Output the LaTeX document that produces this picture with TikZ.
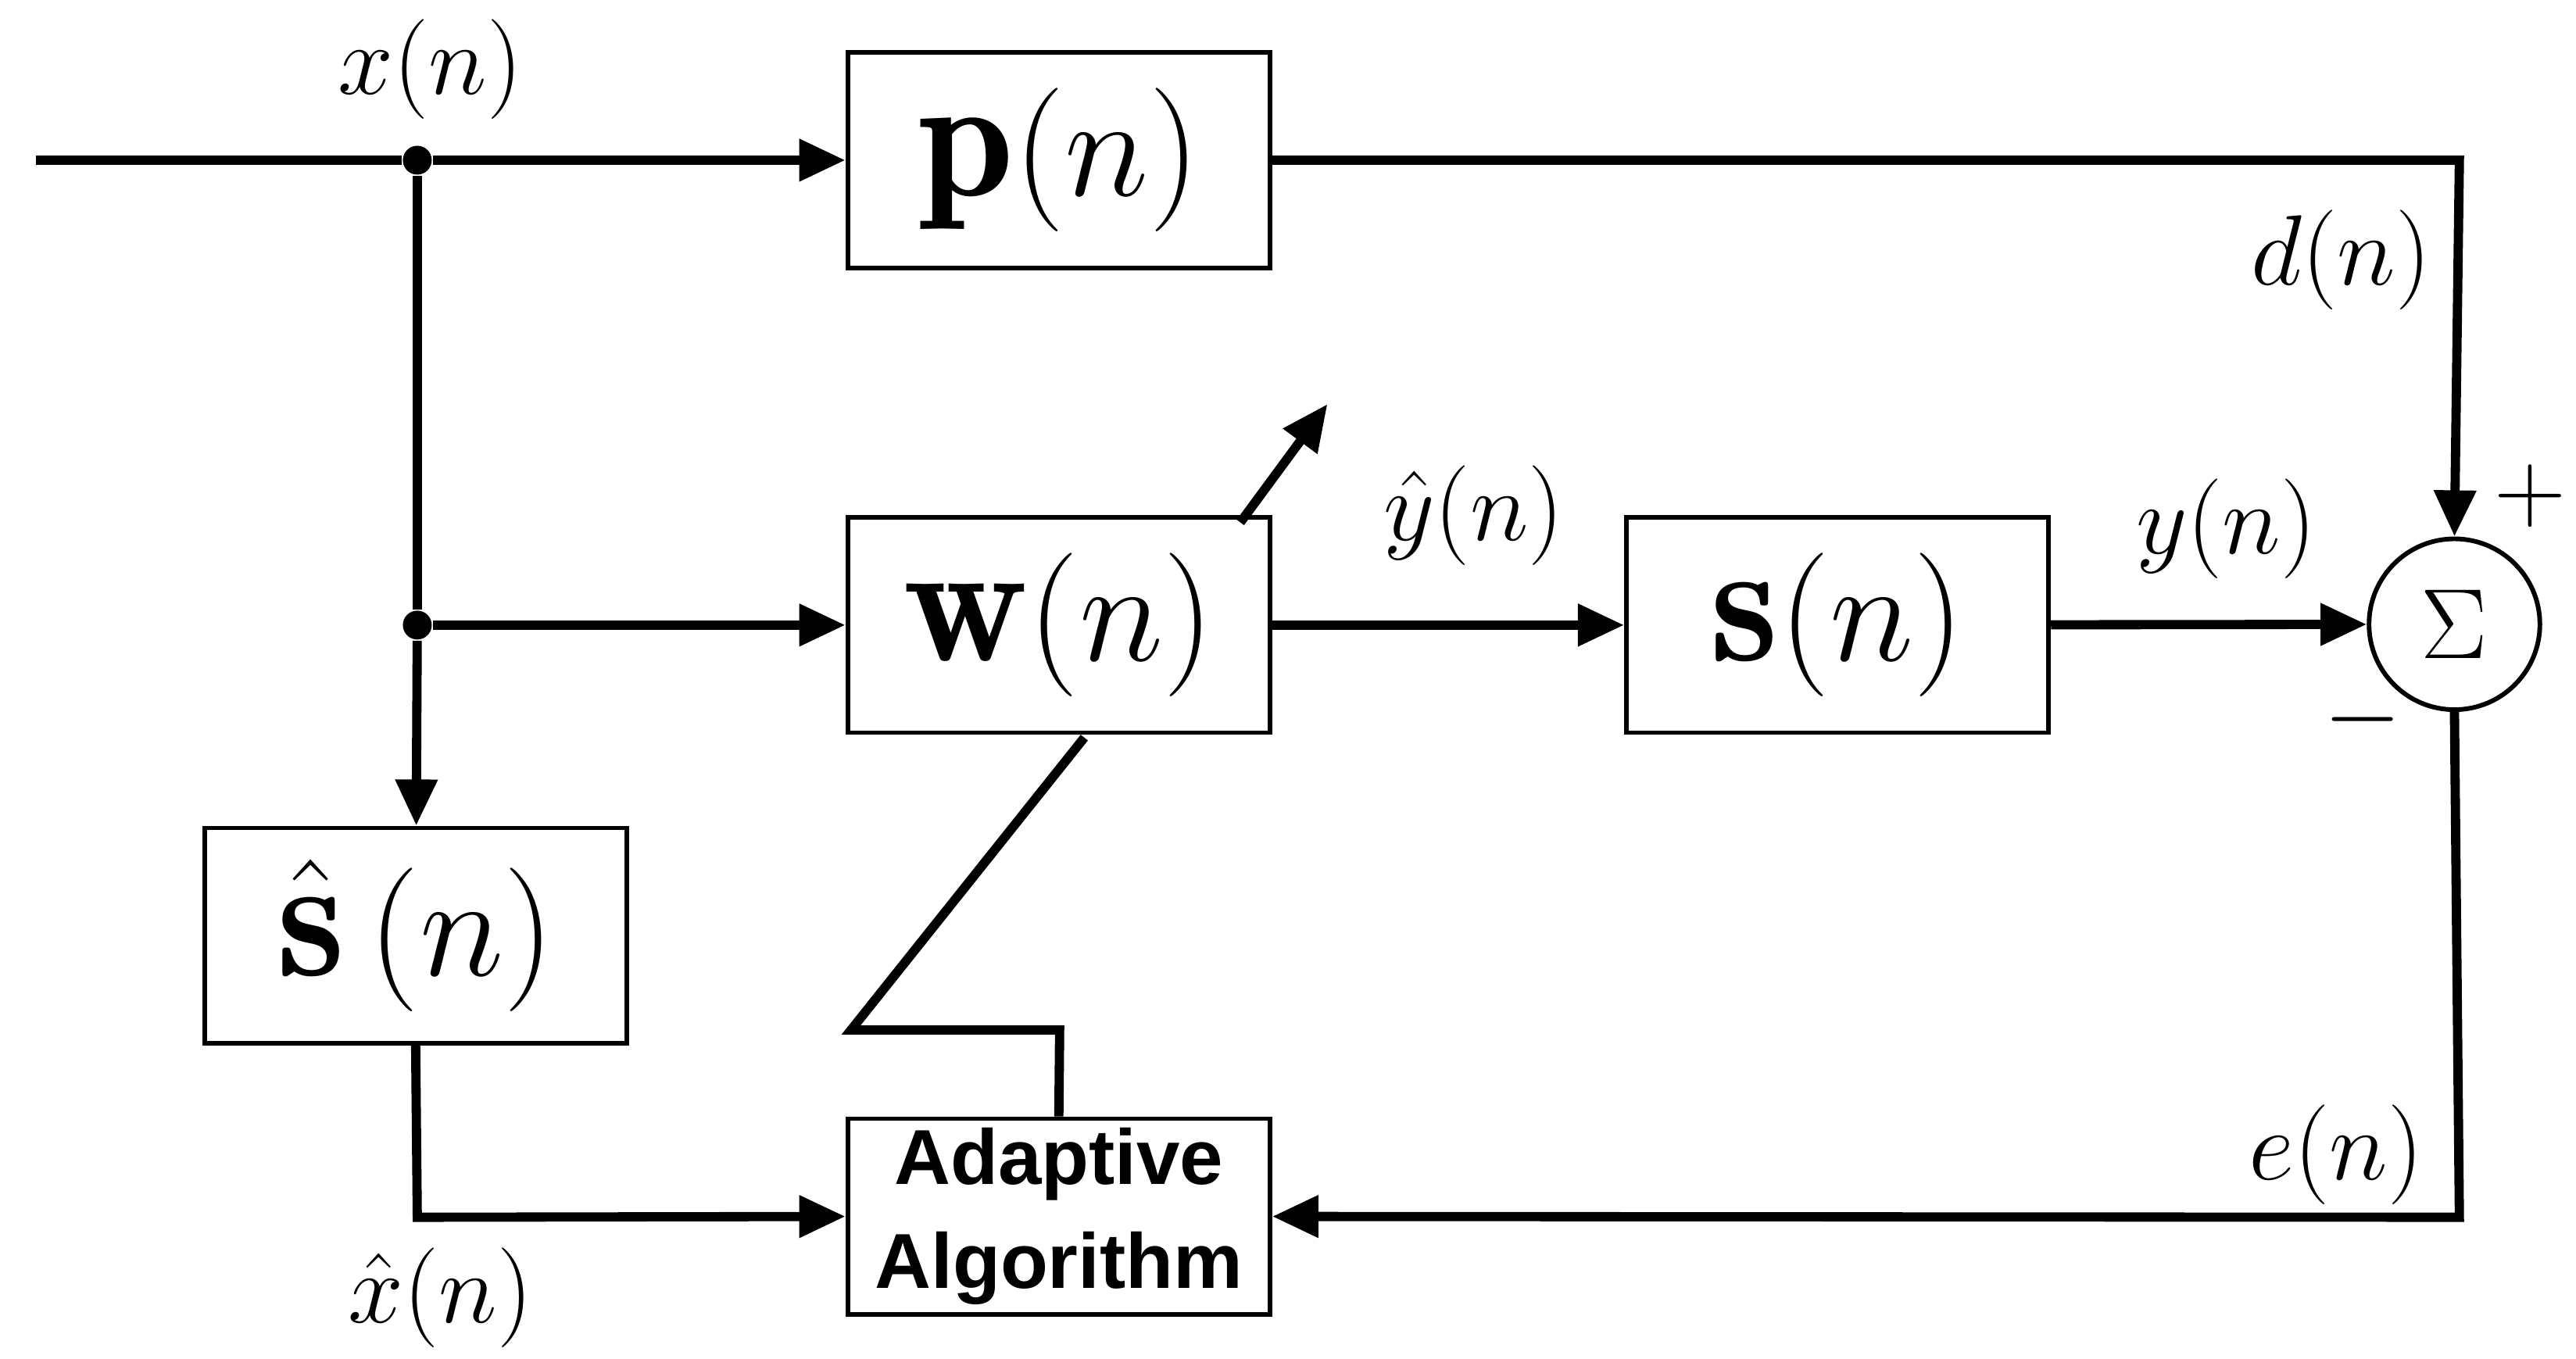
\documentclass[tikz,border=0pt]{standalone}
\usepackage{amsmath}
\usepackage{amssymb}
\usepackage{fontspec}
\newfontfamily\labfont{Liberation Sans}
\usetikzlibrary{arrows.meta}
\tikzset{
  blk/.style={draw, line width=0.8pt, minimum width=2.57cm, minimum height=1.31cm, inner sep=0pt, font=\fontsize{30}{30}\selectfont},
  sig/.style={line width=1.6pt, -{Triangle[length=8pt,width=7pt]}},
  wire/.style={line width=1.6pt},
  lab/.style={font=\fontsize{16}{16}\selectfont},
  dot/.style={circle, fill, inner sep=0pt, minimum size=5pt}
}
\begin{document}
\begin{tikzpicture}
\useasboundingbox (0,0) rectangle (15.68,8.27);
% blocks
\node[blk] (p) at (6.445,7.295) {$\mathbf{p}(n)$};
\node[blk] (w) at (6.445,4.465) {$\mathbf{w}(n)$};
\node[blk] (s) at (11.185,4.465) {$\mathbf{s}(n)$};
\node[blk] (sh) at (2.53,2.575) {$\hat{\mathbf{s}}\,(n)$};
\node[blk, minimum height=1.19cm, align=center, font=\labfont\bfseries\fontsize{13.5}{18}\selectfont] (ad) at (6.445,0.865) {Adaptive\\Algorithm};
\node[draw, circle, line width=0.8pt, minimum size=1.04cm, inner sep=0pt, font=\fontsize{18}{18}\selectfont] (sum) at (14.94,4.47) {$\Sigma$};
% junctions
\coordinate (in) at (0.22,7.295);
\node[dot] (j1) at (2.54,7.295) {};
\node[dot] (j2) at (2.54,4.465) {};
\coordinate (c1) at (14.97,7.295);
\coordinate (c2) at (14.97,0.86);
\coordinate (c3) at (2.54,0.86);
\coordinate (a1) at (6.45,2.0);
\coordinate (a2) at (5.18,2.0);
\coordinate (a3) at (6.6,3.78);
\coordinate (t1) at (7.55,5.09);
\coordinate (t2) at (8.08,5.81);
% connectors
\draw[wire] (in) -- (j1);
\draw[sig] (j1) -- (p);
\draw[wire] (j1) -- (j2);
\draw[sig] (j2) -- (w);
\draw[sig] (j2) -- (sh);
\draw[sig] (w) -- (s);
\draw[sig] (s) -- (sum);
\draw[sig] (p.east) -- (c1) -- (sum.north);
\draw[sig] (sum.south) -- (c2) -- (ad.east);
\draw[sig] (sh.south) -- (c3) -- (ad.west);
\draw[wire] (ad.north) -- (a1) -- (a2) -- (a3);
\draw[sig] (t1) -- (t2);
% labels
\node[lab] (lx) at (2.62,7.85) {$x(n)$};
\node[lab] (ld) at (14.25,6.69) {$d(n)$};
\node[lab] (lyh) at (8.97,5.13) {$\hat{y}(n)$};
\node[lab] (ly) at (13.55,5.05) {$y(n)$};
\node[lab] (lp) at (15.4,5.25) {$+$};
\node[lab] (lm) at (14.38,3.89) {$-$};
\node[lab] (le) at (14.22,1.24) {$e(n)$};
\node[lab] (lxh) at (2.68,0.37) {$\hat{x}(n)$};
\end{tikzpicture}
\end{document}
